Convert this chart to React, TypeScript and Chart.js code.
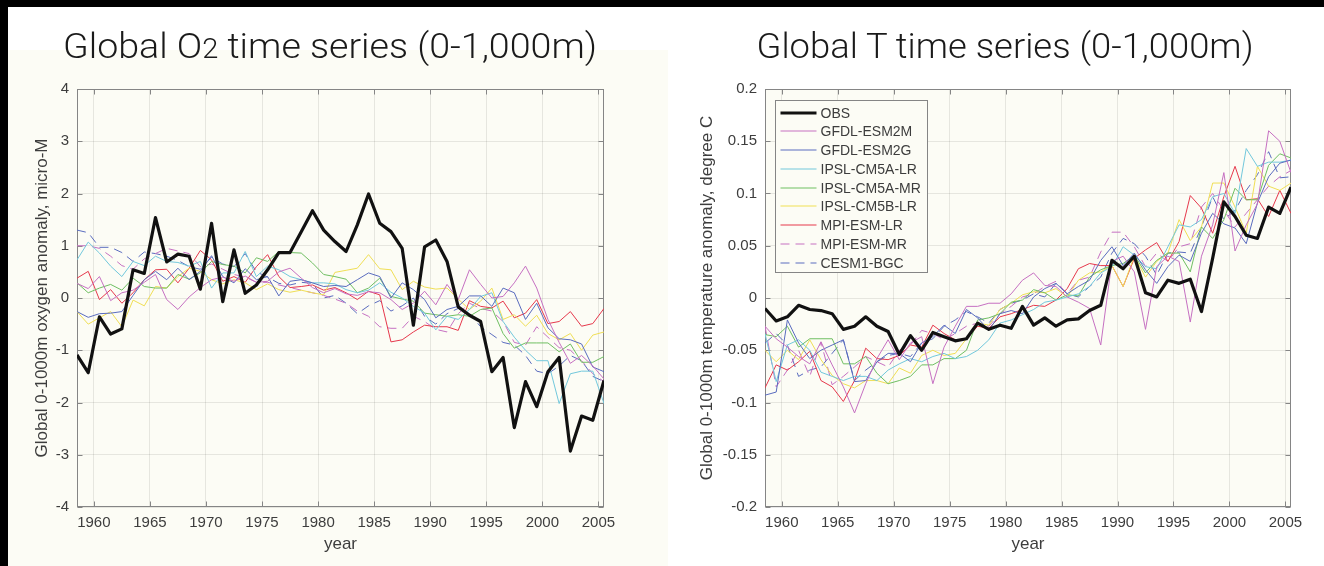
import React, { useEffect, useRef } from 'react';
import { Chart, registerables } from 'chart.js';

Chart.register(...registerables);

// ---------------- data ----------------
const YEARS = [
  1958.5, 1959.5, 1960.5, 1961.5, 1962.5, 1963.5, 1964.5, 1965.5, 1966.5, 1967.5,
  1968.5, 1969.5, 1970.5, 1971.5, 1972.5, 1973.5, 1974.5, 1975.5, 1976.5, 1977.5,
  1978.5, 1979.5, 1980.5, 1981.5, 1982.5, 1983.5, 1984.5, 1985.5, 1986.5, 1987.5,
  1988.5, 1989.5, 1990.5, 1991.5, 1992.5, 1993.5, 1994.5, 1995.5, 1996.5, 1997.5,
  1998.5, 1999.5, 2000.5, 2001.5, 2002.5, 2003.5, 2004.5, 2005.5,
];

const X_TICKS = [1960, 1965, 1970, 1975, 1980, 1985, 1990, 1995, 2000, 2005];
const Y_TICKS_O2 = [-4, -3, -2, -1, 0, 1, 2, 3, 4];
const Y_TICKS_T = [-0.2, -0.15, -0.1, -0.05, 0, 0.05, 0.1, 0.15, 0.2];

const SERIES_LABELS = [
  'OBS', 'GFDL-ESM2M', 'GFDL-ESM2G', 'IPSL-CM5A-LR', 'IPSL-CM5A-MR',
  'IPSL-CM5B-LR', 'MPI-ESM-LR', 'MPI-ESM-MR', 'CESM1-BGC',
];

// Oxygen anomaly (micro-M)
const OBS_O2 = [-1.09, -1.43, -0.36, -0.69, -0.59, 0.54, 0.47, 1.54, 0.69, 0.84, 0.80, 0.17, 1.43, -0.07, 0.92, 0.09, 0.25, 0.54, 0.87, 0.87, 1.27, 1.67, 1.30, 1.08, 0.89, 1.40, 1.99, 1.43, 1.27, 0.95, -0.52, 0.98, 1.11, 0.70, -0.17, -0.33, -0.45, -1.41, -1.14, -2.48, -1.60, -2.08, -1.41, -1.14, -2.93, -2.26, -2.34, -1.58];
const GFDL_ESM2M_O2 = [0.28, 0.18, 0.41, -0.05, 0.10, 0.15, 0.30, 0.45, -0.03, -0.22, 0.02, 0.20, 0.35, 0.40, 0.32, 0.42, 0.30, 0.32, 0.50, 0.57, 0.38, 0.20, 0.10, 0.18, 0.08, 0.05, 0.12, 0.10, -0.03, -0.22, -0.10, 0.13, -0.13, 0.26, -0.03, 0.54, 0.26, 0.00, 0.03, 0.29, 0.61, 0.19, -0.41, -0.85, -1.25, -1.10, -1.30, -1.55];
const GFDL_ESM2G_O2 = [-0.26, -0.37, -0.30, -0.29, -0.26, 0.05, 0.35, 0.51, 0.35, 0.57, 0.35, 0.51, 0.81, 0.41, 0.29, 0.56, 0.35, 0.41, 0.04, 0.32, 0.35, 0.29, 0.22, 0.24, 0.22, 0.35, 0.48, 0.41, 0.00, 0.29, 0.16, -0.03, -0.38, -0.22, -0.16, 0.04, 0.04, -0.16, 0.19, 0.10, -0.41, -0.10, -0.57, -0.78, -0.80, -0.88, -1.32, -1.41];
const IPSL_CM5A_LR_O2 = [0.73, 1.07, 0.86, 0.61, 0.41, 0.70, 0.62, 0.80, 0.70, 0.68, 0.61, 0.70, 0.19, 0.48, 0.48, 0.89, 0.41, 0.61, 0.54, 0.41, 0.35, 0.29, 0.29, 0.27, 0.16, 0.10, 0.15, 0.29, 0.11, 0.00, -0.16, -0.29, -0.61, -0.35, -0.41, -0.22, 0.03, 0.10, -0.45, -0.75, -1.00, -1.20, -1.20, -2.02, -1.45, -1.40, -1.40, -2.02];
const IPSL_CM5A_MR_O2 = [0.29, 0.10, 0.19, 0.26, 0.15, 0.38, 0.22, 0.19, 0.19, 0.45, 0.36, 0.48, 0.70, 0.64, 0.61, 0.48, 0.77, 0.70, 0.89, 0.87, 0.86, 0.67, 0.45, 0.41, 0.36, 0.10, 0.19, 0.38, 0.03, -0.02, -0.06, -0.29, -0.32, -0.35, -0.32, -0.35, -0.22, -0.19, -0.68, -0.96, -0.86, -0.86, -0.86, -1.03, -0.88, -1.23, -1.23, -1.12];
const IPSL_CM5B_LR_O2 = [-0.26, -0.50, -0.38, -0.26, -0.55, -0.04, -0.15, 0.22, 0.19, 0.41, 0.57, 0.51, 0.35, 0.27, 0.35, 0.29, 0.16, 0.27, 0.16, 0.11, 0.15, 0.10, 0.06, 0.49, 0.53, 0.57, 0.83, 0.56, 0.54, 0.16, 0.32, 0.21, 0.17, 0.19, -0.02, -0.22, -0.06, 0.19, -0.41, -0.32, -0.54, -0.33, -0.68, -0.80, -0.68, -1.00, -0.71, -0.65];
const MPI_ESM_LR_O2 = [0.38, 0.51, -0.03, 0.16, -0.10, 0.10, 0.35, 0.54, 0.55, 0.29, 0.57, 0.91, 0.73, 0.32, 0.41, 0.30, 0.60, 0.83, 0.41, 0.20, 0.22, 0.25, 0.15, 0.20, 0.10, -0.03, 0.13, 0.06, -0.84, -0.80, -0.65, -0.52, -0.55, -0.55, -0.62, -0.05, -0.16, -0.19, -0.06, -0.38, -0.29, -0.03, -0.49, -0.45, -0.26, -0.54, -0.49, -0.20];
const MPI_ESM_MR_O2 = [1.00, 1.00, 0.95, 0.80, 0.62, 0.55, 0.75, 0.85, 0.95, 0.90, 0.85, 0.60, 0.65, 0.55, 0.45, 0.40, 0.30, 0.30, 0.25, 0.20, 0.15, 0.10, 0.05, -0.02, -0.10, -0.25, -0.35, -0.55, -0.58, -0.58, -0.35, -0.45, -0.60, -0.65, -0.30, -0.10, -0.20, -0.25, -0.45, -0.85, -0.90, -0.55, -0.75, -0.95, -1.00, -1.20, -1.45, -1.60];
const CESM1_BGC_O2 = [1.30, 1.25, 0.97, 0.97, 0.87, 0.70, 0.88, 0.85, 0.80, 0.72, 0.60, 0.55, 0.78, 0.65, 0.60, 0.85, 0.50, 0.40, 0.28, 0.25, 0.30, 0.28, 0.00, 0.05, -0.10, -0.30, -0.15, -0.05, -0.25, -0.15, 0.00, -0.35, -0.50, -0.30, -0.20, -0.30, -0.55, -0.70, -0.85, -0.90, -1.10, -1.40, -1.45, -1.30, -1.10, -1.20, -1.50, -1.60];

// Temperature anomaly (degree C)
const OBS_T = [-0.010, -0.022, -0.018, -0.007, -0.011, -0.012, -0.015, -0.030, -0.027, -0.018, -0.027, -0.032, -0.054, -0.036, -0.050, -0.033, -0.037, -0.041, -0.039, -0.024, -0.030, -0.026, -0.029, -0.008, -0.026, -0.019, -0.027, -0.021, -0.020, -0.012, -0.007, 0.036, 0.028, 0.040, 0.005, 0.001, 0.017, 0.014, 0.018, -0.013, 0.038, 0.092, 0.078, 0.060, 0.057, 0.087, 0.081, 0.106];
const GFDL_ESM2M_T = [-0.027, -0.039, -0.047, -0.056, -0.063, -0.042, -0.064, -0.085, -0.110, -0.082, -0.058, -0.040, -0.059, -0.043, -0.037, -0.082, -0.047, -0.027, -0.008, -0.008, -0.005, -0.005, 0.004, 0.017, 0.024, 0.012, 0.011, 0.001, -0.004, -0.010, -0.045, 0.035, 0.040, 0.025, -0.030, 0.030, 0.040, 0.035, -0.023, 0.040, 0.070, 0.120, 0.045, 0.070, 0.090, 0.160, 0.150, 0.120];
const GFDL_ESM2G_T = [-0.093, -0.090, -0.021, -0.043, -0.058, -0.050, -0.045, -0.040, -0.080, -0.079, -0.061, -0.053, -0.053, -0.061, -0.043, -0.037, -0.026, -0.034, -0.011, -0.019, -0.031, -0.015, -0.012, -0.015, 0.001, 0.009, 0.014, 0.004, 0.011, 0.017, 0.036, 0.049, 0.031, 0.043, 0.027, 0.014, 0.030, 0.041, 0.035, 0.062, 0.081, 0.071, 0.067, 0.052, 0.091, 0.116, 0.129, 0.132];
const IPSL_CM5A_LR_T = [-0.034, -0.080, -0.045, -0.040, -0.050, -0.071, -0.075, -0.079, -0.075, -0.075, -0.079, -0.069, -0.063, -0.058, -0.061, -0.056, -0.053, -0.058, -0.056, -0.050, -0.040, -0.024, -0.021, -0.016, -0.011, -0.004, -0.002, 0.001, 0.004, 0.011, 0.024, 0.030, 0.049, 0.041, 0.030, 0.028, 0.049, 0.070, 0.068, 0.075, 0.097, 0.100, 0.081, 0.143, 0.126, 0.130, 0.130, 0.132];
const IPSL_CM5A_MR_T = [-0.035, -0.037, -0.027, -0.047, -0.039, -0.039, -0.039, -0.063, -0.063, -0.056, -0.072, -0.082, -0.079, -0.075, -0.064, -0.064, -0.058, -0.058, -0.050, -0.021, -0.019, -0.015, -0.004, -0.002, 0.008, 0.005, -0.002, 0.003, 0.002, 0.020, 0.027, 0.031, 0.033, 0.041, 0.024, 0.036, 0.043, 0.043, 0.025, 0.068, 0.057, 0.075, 0.105, 0.094, 0.094, 0.127, 0.138, 0.134];
const IPSL_CM5B_LR_T = [-0.050, -0.061, -0.050, -0.059, -0.040, -0.059, -0.074, -0.082, -0.086, -0.079, -0.079, -0.082, -0.067, -0.072, -0.055, -0.050, -0.055, -0.053, -0.039, -0.024, -0.026, -0.011, -0.005, 0.003, 0.006, 0.005, 0.009, 0.001, 0.017, 0.024, 0.025, 0.031, 0.011, 0.040, 0.020, 0.035, 0.043, 0.075, 0.055, 0.068, 0.110, 0.110, 0.087, 0.062, 0.126, 0.107, 0.103, 0.110];
const MPI_ESM_LR_T = [-0.086, -0.064, -0.069, -0.061, -0.051, -0.079, -0.085, -0.099, -0.079, -0.048, -0.058, -0.059, -0.055, -0.045, -0.047, -0.026, -0.034, -0.040, -0.039, -0.027, -0.029, -0.018, -0.015, -0.011, -0.007, -0.008, -0.002, 0.009, 0.028, 0.033, 0.031, 0.031, 0.011, 0.038, 0.046, 0.053, 0.035, 0.054, 0.098, 0.086, 0.062, 0.097, 0.126, 0.094, 0.095, 0.078, 0.103, 0.081];
const MPI_ESM_MR_T = [-0.027, -0.085, -0.069, -0.050, -0.075, -0.042, -0.083, -0.075, -0.066, -0.056, -0.061, -0.066, -0.050, -0.045, -0.031, -0.034, -0.040, -0.034, -0.027, -0.024, -0.027, -0.015, -0.008, 0.001, 0.004, 0.011, 0.016, 0.004, 0.017, 0.020, 0.044, 0.063, 0.063, 0.049, 0.030, 0.043, 0.035, 0.049, 0.052, 0.087, 0.100, 0.084, 0.068, 0.081, 0.094, 0.107, 0.116, 0.122];
const CESM1_BGC_T = [-0.043, -0.034, -0.045, -0.075, -0.069, -0.066, -0.053, -0.040, -0.079, -0.069, -0.061, -0.055, -0.053, -0.056, -0.043, -0.039, -0.027, -0.021, -0.013, -0.018, -0.024, -0.011, -0.005, -0.002, 0.004, 0.001, 0.014, 0.004, 0.001, 0.011, 0.020, 0.043, 0.057, 0.052, 0.040, 0.022, 0.043, 0.044, 0.043, 0.068, 0.097, 0.075, 0.084, 0.103, 0.118, 0.140, 0.115, 0.116];

const O2_SERIES = [OBS_O2, GFDL_ESM2M_O2, GFDL_ESM2G_O2, IPSL_CM5A_LR_O2, IPSL_CM5A_MR_O2, IPSL_CM5B_LR_O2, MPI_ESM_LR_O2, MPI_ESM_MR_O2, CESM1_BGC_O2];
const T_SERIES = [OBS_T, GFDL_ESM2M_T, GFDL_ESM2G_T, IPSL_CM5A_LR_T, IPSL_CM5A_MR_T, IPSL_CM5B_LR_T, MPI_ESM_LR_T, MPI_ESM_MR_T, CESM1_BGC_T];

// ---------------- styles ----------------
const COLORS = ['#111111', '#c670c2', '#5a6cbf', '#72c8dc', '#6fbf62', '#f0df55', '#e6384c', '#c670c2', '#5a6cbf'];
const WIDTHS = [3.2, 1, 1, 1, 1, 1, 1, 1, 1];
const DASHES = [[], [], [], [], [], [], [], [9, 6], [9, 6]];
const CREAM = '#fcfcf5';
const TEXT = '#3d3d3d';
const GRID = 'rgba(0,0,0,0.085)';
const FRAME = '#858585';
const FONT = '"Liberation Sans", Arial, Helvetica, sans-serif';

Chart.defaults.font.family = FONT;

const framePlugin = {
  id: 'matlabFrame',
  beforeDraw(chart: any) {
    const { ctx, chartArea: a } = chart;
    ctx.save();
    ctx.fillStyle = CREAM;
    ctx.fillRect(a.left, a.top, a.right - a.left, a.bottom - a.top);
    ctx.restore();
  },
  beforeDatasetsDraw(chart: any) {
    const { ctx, chartArea: a, scales } = chart;
    const L = Math.round(a.left) + 0.5;
    const R = Math.round(a.right) - 0.5;
    const T = Math.round(a.top) + 0.5;
    const B = Math.round(a.bottom) - 0.5;
    ctx.save();
    ctx.strokeStyle = FRAME;
    ctx.lineWidth = 1;
    ctx.beginPath();
    const tl = 5;
    scales.x.ticks.forEach((t: any) => {
      const px = Math.round(scales.x.getPixelForValue(t.value)) + 0.5;
      ctx.moveTo(px, B); ctx.lineTo(px, B - tl);
      ctx.moveTo(px, T); ctx.lineTo(px, T + tl);
    });
    scales.y.ticks.forEach((t: any) => {
      const py = Math.round(scales.y.getPixelForValue(t.value)) + 0.5;
      ctx.moveTo(L, py); ctx.lineTo(L + tl, py);
      ctx.moveTo(R, py); ctx.lineTo(R - tl, py);
    });
    ctx.stroke();
    ctx.strokeRect(L, T, R - L, B - T);
    ctx.restore();
  },
};

const boxLegendPlugin = {
  id: 'boxLegend',
  afterDraw(chart: any, _args: any, opts: any) {
    if (!opts || !opts.show) return;
    const { ctx, chartArea: a } = chart;
    const x0 = Math.round(a.left) + 10.5;
    const y0 = Math.round(a.top) + 11.5;
    const w = 152;
    const h = 172;
    ctx.save();
    ctx.fillStyle = CREAM;
    ctx.fillRect(x0, y0, w, h);
    ctx.strokeStyle = FRAME;
    ctx.lineWidth = 1;
    ctx.strokeRect(x0, y0, w, h);
    SERIES_LABELS.forEach((label, k) => {
      const yc = Math.round(y0 + 12 + k * 18.75);
      ctx.save();
      ctx.beginPath();
      ctx.setLineDash(DASHES[k]);
      ctx.strokeStyle = COLORS[k];
      ctx.lineWidth = k === 0 ? WIDTHS[0] : 1.2;
      ctx.moveTo(x0 + 5, yc);
      ctx.lineTo(x0 + 41, yc);
      ctx.stroke();
      ctx.restore();
      ctx.fillStyle = TEXT;
      ctx.font = `14px ${FONT}`;
      ctx.textBaseline = 'middle';
      ctx.textAlign = 'left';
      ctx.fillText(label, x0 + 45, yc + 1);
    });
    ctx.restore();
  },
};

function fmtTick(v: number) {
  const s = parseFloat(Number(v).toFixed(2));
  return s === 0 ? '0' : String(s);
}

type Geom = {
  width: number; height: number; yAxisWidth: number; xAxisHeight: number;
  padTop: number; padRight: number; yTitlePad: number;
};

function makeConfig(series: number[][], yMin: number, yMax: number, yTicks: number[], yTitle: string, legend: boolean, g: Geom): any {
  const datasets = series.map((vals, k) => ({
    label: SERIES_LABELS[k],
    data: vals.map((v, i) => ({ x: YEARS[i], y: v })),
    borderColor: COLORS[k],
    backgroundColor: COLORS[k],
    borderWidth: WIDTHS[k],
    borderDash: DASHES[k],
    borderJoinStyle: 'round',
    pointRadius: 0,
    pointHoverRadius: 0,
    tension: 0,
    fill: false,
  }));
  return {
    type: 'line',
    data: { datasets },
    plugins: [framePlugin, boxLegendPlugin],
    options: {
      animation: false,
      responsive: false,
      devicePixelRatio: 1,
      events: [],
      layout: { padding: { top: g.padTop, right: g.padRight, left: 0, bottom: 0 } },
      plugins: {
        legend: { display: false },
        tooltip: { enabled: false },
        title: { display: false },
        boxLegend: { show: legend },
      },
      scales: {
        x: {
          type: 'linear',
          min: 1958.5,
          max: 2005.5,
          afterBuildTicks: (s: any) => { s.ticks = X_TICKS.map((v) => ({ value: v })); },
          afterFit: (s: any) => { s.height = g.xAxisHeight; },
          grid: { color: GRID, drawTicks: false, lineWidth: 1 },
          border: { display: false },
          ticks: { color: TEXT, font: { size: 15 }, padding: 7, maxRotation: 0, autoSkip: false, callback: (v: any) => String(v) },
          title: { display: true, text: 'year', color: TEXT, font: { size: 17 }, padding: { top: 0, bottom: 11 } },
        },
        y: {
          type: 'linear',
          min: yMin,
          max: yMax,
          afterBuildTicks: (s: any) => { s.ticks = yTicks.map((v) => ({ value: v })); },
          afterFit: (s: any) => { s.width = g.yAxisWidth; },
          grid: { color: GRID, drawTicks: false, lineWidth: 1 },
          border: { display: false },
          ticks: { color: TEXT, font: { size: 15 }, padding: 8, autoSkip: false, callback: (v: any) => fmtTick(v) },
          title: { display: true, text: yTitle, color: TEXT, font: { size: 17 }, padding: { top: g.yTitlePad, bottom: 0 } },
        },
      },
    },
  };
}

function Panel(props: { left: number; top: number; geom: Geom; series: number[][]; yMin: number; yMax: number; yTicks: number[]; yTitle: string; legend: boolean }) {
  const ref = useRef<HTMLCanvasElement>(null);
  useEffect(() => {
    if (!ref.current) return;
    const chart = new Chart(ref.current, makeConfig(props.series, props.yMin, props.yMax, props.yTicks, props.yTitle, props.legend, props.geom));
    return () => chart.destroy();
  }, []);
  return (
    <canvas
      ref={ref}
      width={props.geom.width}
      height={props.geom.height}
      style={{ position: 'absolute', left: props.left, top: props.top, width: props.geom.width, height: props.geom.height }}
    />
  );
}

const LEFT_GEOM: Geom = { width: 640, height: 506, yAxisWidth: 69, xAxisHeight: 59, padTop: 29, padRight: 44, yTitlePad: 24 };
const RIGHT_GEOM: Geom = { width: 656, height: 506, yAxisWidth: 97, xAxisHeight: 59, padTop: 29, padRight: 33, yTitlePad: 29 };

export default function App() {
  const titleFont = 'Roboto, "Liberation Sans", Arial, sans-serif';
  return (
    <div style={{ position: 'absolute', left: 0, top: 0, width: 1324, height: 566, background: '#ffffff', overflow: 'hidden' }}>
      <div style={{ position: 'absolute', left: 8, top: 50, width: 660, height: 516, background: CREAM }} />
      <Panel left={8} top={60} geom={LEFT_GEOM} series={O2_SERIES} yMin={-4} yMax={4} yTicks={Y_TICKS_O2}
        yTitle="Global 0-1000m oxygen anomaly, micro-M" legend={false} />
      <Panel left={668} top={60} geom={RIGHT_GEOM} series={T_SERIES} yMin={-0.2} yMax={0.2} yTicks={Y_TICKS_T}
        yTitle="Global 0-1000m temperature anomaly, degree C" legend={true} />
      <svg width={1324} height={80} style={{ position: 'absolute', left: 0, top: 0 }}>
        <text x={330} y={58} textAnchor="middle" fontSize={35} fontWeight={300} fontFamily={titleFont} fill="#1a1a1a"
          textLength={534} lengthAdjust="spacingAndGlyphs">
          Global O<tspan fontSize={27}>2</tspan> time series (0-1,000m)
        </text>
        <text x={1005} y={58} textAnchor="middle" fontSize={35} fontWeight={300} fontFamily={titleFont} fill="#1a1a1a"
          textLength={497} lengthAdjust="spacingAndGlyphs">
          Global T time series (0-1,000m)
        </text>
      </svg>
      <div style={{ position: 'absolute', left: 0, top: 0, width: 1324, height: 7, background: '#000' }} />
      <div style={{ position: 'absolute', left: 0, top: 0, width: 8, height: 566, background: '#000' }} />
    </div>
  );
}
